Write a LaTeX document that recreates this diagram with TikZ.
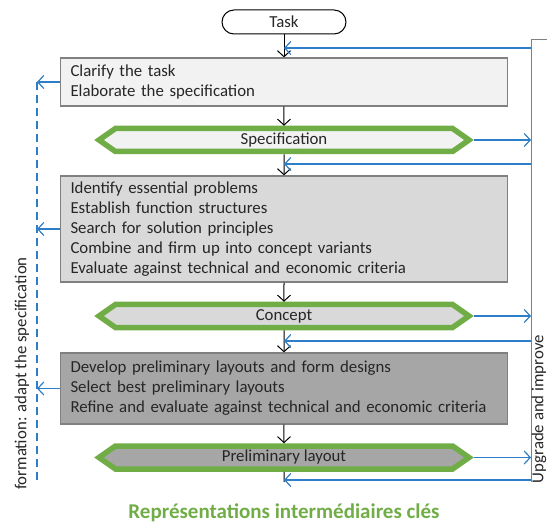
\documentclass[tikz,border=0pt]{standalone}
\usepackage{fontspec}
\setmainfont{Carlito}
\usetikzlibrary{arrows.meta,shapes.symbols}

\definecolor{boxline}{HTML}{808080}
\definecolor{fillA}{HTML}{F2F2F2}
\definecolor{fillB}{HTML}{D9D9D9}
\definecolor{fillC}{HTML}{A6A6A6}
\definecolor{reprgreen}{HTML}{70AD47}
\definecolor{fbblue}{HTML}{2E7DC8}

\begin{document}
\begin{tikzpicture}
    [x=1pt, y=-1pt, >={Straight Barb[length=6pt,width=13pt]},
     every node/.style={font=\fontsize{16.8}{20}\selectfont, inner sep=0pt, text=black!85},
     stepbox/.style={rectangle, draw=boxline, line width=1.2pt, minimum width=447pt, text width=427pt, align=left},
     repr/.style={signal, signal to=west and east, signal pointer angle=70, draw=reprgreen, line width=5.5pt, minimum width=370pt, minimum height=23pt},
     flow/.style={->, black, line width=1pt},
     fb/.style={->, fbblue, line width=1.2pt}]

    \useasboundingbox (0,0) rectangle (547,524);

    \node (task) [draw=black, rounded corners=12pt, minimum width=124pt, minimum height=24pt, line width=1pt] at (284,22) {Task};
    \node (clarify) [stepbox, fill=fillA, minimum height=48pt] at (284,82) {Clarify the task\\Elaborate the specification};
    \node (spec) [repr, fill=fillA] at (284,140) {Specification};
    \node (problems) [stepbox, fill=fillB, minimum height=106pt] at (284,229) {Identify essential problems\\Establish function structures\\Search for solution principles\\Combine and firm up into concept variants\\Evaluate against technical and economic criteria};
    \node (concept) [repr, fill=fillB] at (284,316) {Concept};
    \node (layouts) [stepbox, fill=fillC, minimum height=71pt] at (284,388.5) {Develop preliminary layouts and form designs\\Select best preliminary layouts\\Refine and evaluate against technical and economic criteria};
    \node (prelim) [repr, fill=fillC] at (284,457.5) {Preliminary layout};

    \coordinate (rtop) at (531,40);
    \coordinate (rbot) at (531,482);
    \coordinate (ltop) at (37,82);
    \coordinate (lbot) at (37,482);
    \coordinate (mbot) at (284,482);

    % main flow
    \draw[flow] (task) -- (clarify);
    \draw[flow] (clarify) -- (spec);
    \draw[flow] (spec) -- (problems);
    \draw[flow] (problems) -- (concept);
    \draw[flow] (concept) -- (layouts);
    \draw[flow] (layouts) -- (prelim);
    \draw[black, line width=1pt] (prelim) -- (mbot);

    % side lines
    \draw[boxline, line width=1pt] (547,40) -- (rtop) -- (rbot);
    \draw[fbblue, line width=1.2pt, dash pattern=on 8pt off 5pt] (ltop) -- (lbot);

    \foreach \y [count=\i] in {48,164,341,480} {
      \coordinate (back\i) at (531,\y);
      \draw[fb] (back\i) -- (back\i -| task);
    }
    \foreach \n in {spec,concept,prelim}
      \draw[fb] (\n.east) -- (\n.east -| rtop);
    \foreach \n in {clarify,problems,layouts}
      \draw[fb] (\n.west) -- (\n.west -| ltop);

    \node (adapt) [rotate=90, anchor=east] at (22,257) {formation: adapt the specification};
    \node (upgrade) [rotate=90, anchor=east] at (539,335) {Upgrade and improve};
    \node (caption) [text=reprgreen, font=\fontsize{21}{24}\selectfont\bfseries] at (284,513) {Représentations intermédiaires clés};
\end{tikzpicture}
\end{document}
